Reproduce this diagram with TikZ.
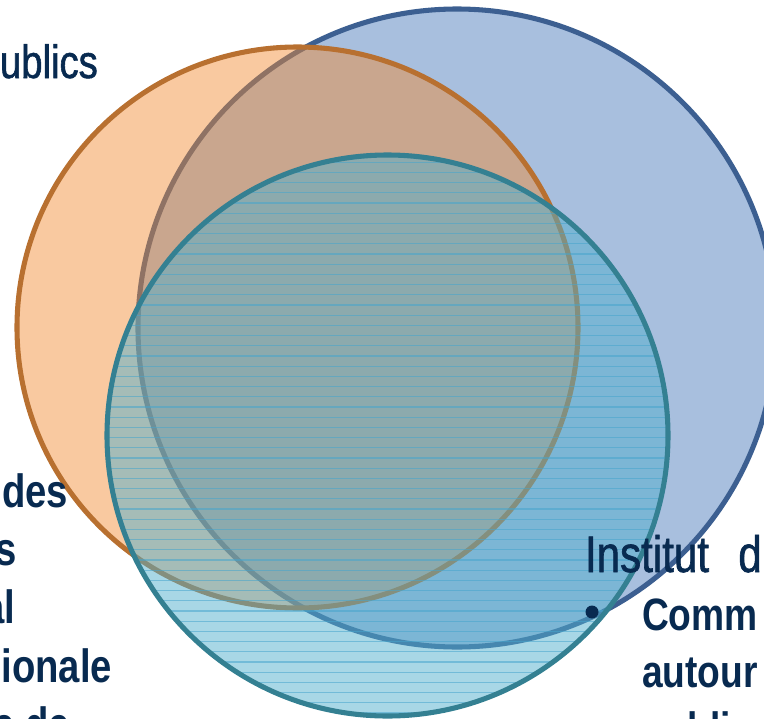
\documentclass[tikz,border=0pt]{standalone}
\usepackage{fontspec}
\setmainfont{Liberation Sans}
\newfontfamily\narrowfont[FakeStretch=0.82]{Liberation Sans}
\newfontfamily\narrowheavy[FakeStretch=0.82,FakeBold=1.2]{Liberation Sans}
\definecolor{navy}{RGB}{8,42,80}
\definecolor{bluestroke}{RGB}{60,95,145}
\definecolor{bluefill}{RGB}{168,191,222}
\definecolor{orangestroke}{RGB}{184,112,48}
\definecolor{orangefill}{RGB}{242,138,48}
\definecolor{tealstroke}{RGB}{52,128,146}
\definecolor{tealfill}{RGB}{81,175,205}
\definecolor{tealline}{RGB}{70,165,205}
\begin{document}
\begin{tikzpicture}[x=0.75pt,y=-0.75pt,
  ring/.style={line width=3.8pt},
  lbl/.style={inner sep=0pt,outer sep=0pt,text=navy},
  regtxt/.style={lbl,font=\narrowheavy\fontsize{35pt}{40pt}\selectfont},
  boldtxt/.style={lbl,font=\narrowfont\bfseries\fontsize{35pt}{40pt}\selectfont},
  bigtxt/.style={lbl,font=\narrowheavy\fontsize{38.5pt}{44pt}\selectfont},
  subtxt/.style={lbl,font=\narrowfont\bfseries\fontsize{34pt}{40pt}\selectfont}]
\useasboundingbox (0,0) rectangle (764,718);
\clip (0,0) rectangle (764,718);
\coordinate (cb) at (457,328);
\coordinate (co) at (297.5,327.5);
\coordinate (ct) at (387.5,435.5);
% blue
\fill[bluefill] (cb) circle[radius=319];
\draw[ring,bluestroke] (cb) circle[radius=319];
% orange
\fill[orangefill,opacity=0.46] (co) circle[radius=280.5];
\draw[ring,orangestroke] (co) circle[radius=280.5];
% teal
\fill[tealfill,opacity=0.5] (ct) circle[radius=280.5];
\begin{scope}
  \clip (ct) circle[radius=280.5];
  \foreach \k in {0,...,56}
    \draw[tealline,opacity=0.55,line width=0.8pt] (100,152+10.2*\k) -- (680,152+10.2*\k);
\end{scope}
\draw[ring,tealstroke] (ct) circle[radius=280.5];
% texts
\node[regtxt,anchor=base west] (t1) at (0,78) {ublics};
\node[boldtxt,anchor=base east] (l1) at (68,507) {des};
\node[boldtxt,anchor=base east] (l2) at (17,565) {s};
\node[boldtxt,anchor=base east] (l3) at (15,623) {al};
\node[boldtxt,anchor=base east] (l4) at (112,682) {ionale};
\node[boldtxt,anchor=base east] (l5) at (70,740) {e de};
\node[bigtxt,anchor=base west] (r0) at (585,572) {Institut\hspace*{22pt}d};
\fill[navy] (592,612) circle[radius=6.5];
\node[subtxt,anchor=base west] (r1) at (642,630) {Comm};
\node[subtxt,anchor=base west] (r2) at (642,687) {autour};
\node[subtxt,anchor=base west] (r3) at (642,744) {publics};
\end{tikzpicture}
\end{document}
